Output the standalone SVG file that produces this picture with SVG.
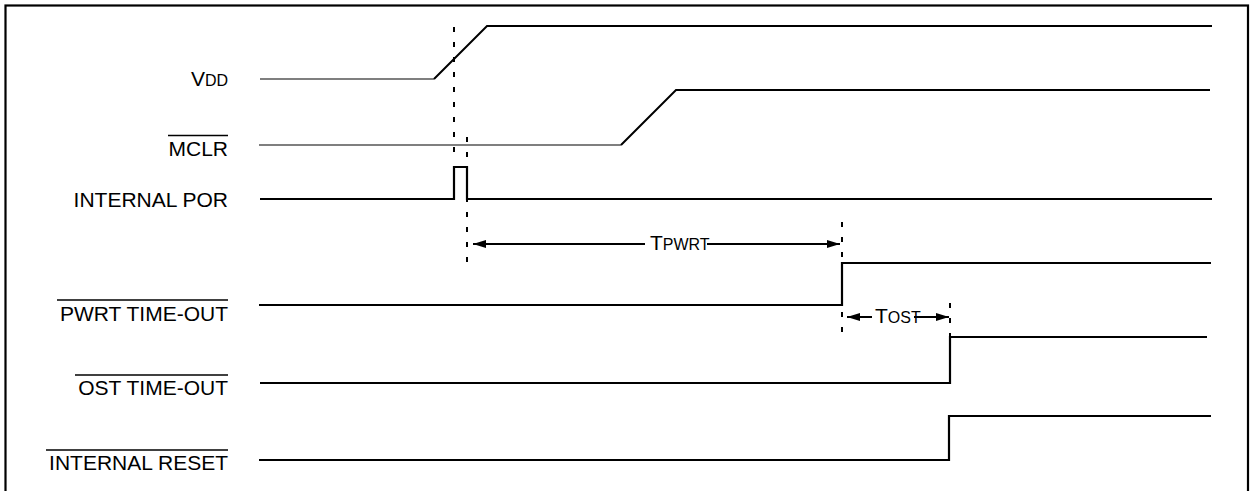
<svg xmlns="http://www.w3.org/2000/svg" width="1253" height="491" viewBox="0 0 1253 491">
<defs>
<style>
.lbl{font-family:"Liberation Sans",Arial,sans-serif;font-size:21px;fill:#000;text-anchor:end}
.small{font-size:16px}
.sig{fill:none;stroke:#000;stroke-width:2.2;stroke-linejoin:miter}
.low{fill:none;stroke:#555;stroke-width:1.6}
.ovl{stroke:#000;stroke-width:1.3}
.dash{stroke:#000;stroke-width:2;stroke-dasharray:5 10;fill:none}
.dim{stroke:#000;stroke-width:2;fill:none}
.tm{font-family:"Liberation Sans",Arial,sans-serif;font-size:21px;fill:#000}
</style>
<marker id="ah" viewBox="0 0 13 8" refX="13" refY="4" markerWidth="13" markerHeight="8" markerUnits="userSpaceOnUse" orient="auto-start-reverse">
<path d="M0,0 L13,4 L0,8 Z" fill="#000"/>
</marker>
</defs>
<rect x="5.5" y="5.5" width="1242.5" height="500" fill="#fff" stroke="#000" stroke-width="2.2"/>

<g id="vdd">
<text class="lbl" x="228" y="86"><tspan>V</tspan><tspan class="small">DD</tspan></text>
<path class="low" d="M260,79 H434"/>
<path class="sig" d="M434,79 L487,26 H1212" style="stroke-width:2"/>
</g>

<g id="mclr">
<text class="lbl" x="228" y="156">MCLR</text>
<line class="ovl" x1="168" y1="135.5" x2="228" y2="135.5"/>
<path class="low" d="M259,145 H621"/>
<path class="sig" d="M621,145 L676,90 H1210" style="stroke-width:2"/>
</g>

<g id="internal-por">
<text class="lbl" x="228" y="207">INTERNAL POR</text>
<path class="sig" d="M260,199 H454 V167 H467 V199 H1212"/>
</g>

<g id="pwrt-timeout">
<text class="lbl" x="228" y="321">PWRT TIME-OUT</text>
<line class="ovl" x1="57" y1="300" x2="228" y2="300"/>
<path class="sig" d="M259,305 H842 V263 H1211"/>
</g>

<g id="ost-timeout">
<text class="lbl" x="228" y="395">OST TIME-OUT</text>
<line class="ovl" x1="75" y1="375" x2="228" y2="375"/>
<path class="sig" d="M260,383 H950 V337 H1207"/>
</g>

<g id="internal-reset">
<text class="lbl" x="228" y="470">INTERNAL RESET</text>
<line class="ovl" x1="46" y1="450" x2="228" y2="450"/>
<path class="sig" d="M259,460 H949 V416 H1211"/>
</g>

<g id="connectors">
<line class="dash" x1="454" y1="27" x2="454" y2="160"/>
<line class="dash" x1="467" y1="137" x2="467" y2="265"/>
<line class="dash" x1="842" y1="222" x2="842" y2="333"/>
<line class="dash" x1="950" y1="303" x2="950" y2="337"/>
<line class="dim" x1="645" y1="244" x2="473" y2="244" marker-end="url(#ah)"/>
<line class="dim" x1="707" y1="244" x2="840" y2="244" marker-end="url(#ah)"/>
<line class="dim" x1="872" y1="317" x2="847" y2="317" marker-end="url(#ah)"/>
<line class="dim" x1="914" y1="317" x2="949" y2="317" marker-end="url(#ah)"/>
</g>

<g id="tpwrt">
<text class="tm" x="650" y="250">T<tspan style="font-size:16px">PWRT</tspan></text>
</g>
<g id="tost">
<text class="tm" x="875" y="323">T<tspan style="font-size:16px">OST</tspan></text>
</g>
</svg>
